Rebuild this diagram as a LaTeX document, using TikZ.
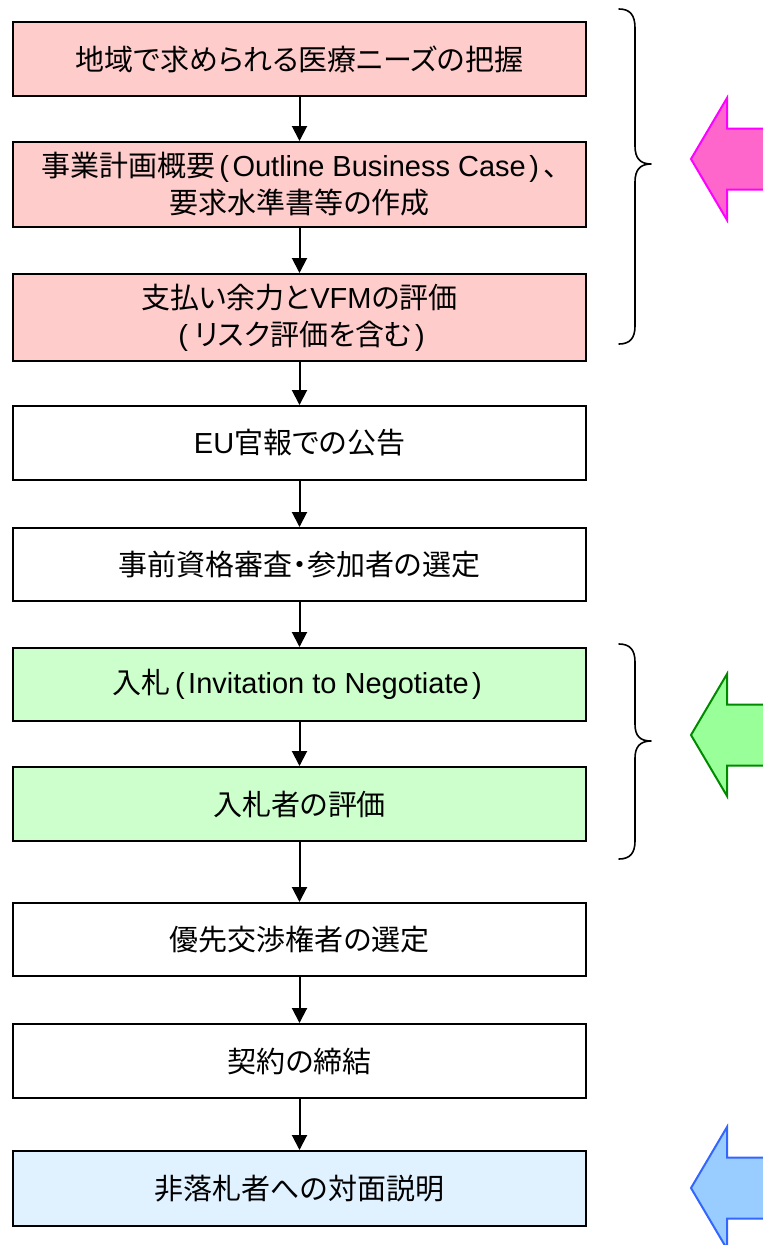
\documentclass[tikz,border=0pt]{standalone}
\usepackage{fontspec}
\setmainfont{Liberation Sans}
\newfontfamily\jpfont[RawFeature=+palt]{Noto Sans CJK JP}
\usetikzlibrary{arrows.meta}
\newcommand\latn[1]{{\normalfont #1}}
\newcommand\lpar{\hspace{0.15em}\latn{(}\hspace{0.12em}}
\newcommand\rpar{\hspace{0.12em}\latn{)}\hspace{0.15em}}
\definecolor{pinkbox}{HTML}{FFCCCC}
\definecolor{greenbox}{HTML}{CCFFCC}
\definecolor{bluebox}{HTML}{E0F2FF}
\definecolor{pinkfill}{HTML}{FF66CC}
\definecolor{pinkline}{HTML}{FF00FF}
\definecolor{greenfill}{HTML}{99FF99}
\definecolor{greenline}{HTML}{008A00}
\definecolor{bluefill}{HTML}{99CCFF}
\definecolor{blueline}{HTML}{3366FF}
\begin{document}
\begin{tikzpicture}[x=1pt,y=-1pt,
  stepbox/.style={draw=black, line width=2pt, minimum width=573pt, align=center,
    inner sep=0pt, font=\jpfont\fontsize{29}{37}\selectfont},
  conn/.style={line width=2pt, -{Triangle[width=15pt,length=15pt]}},
  bracepath/.style={line width=1.6pt, line cap=round, line join=round},
  blockarrow/.style={line width=2pt, line join=miter}]
\useasboundingbox (0,0) rectangle (763,1245);
\clip (0,0) rectangle (763,1245);

\node[stepbox, fill=pinkbox, minimum height=74pt] (b1) at (299.5,59) {地域で求められる医療ニーズの把握};
\node[stepbox, fill=pinkbox, minimum height=85pt] (b2) at (299.5,184.5) {事業計画概要\lpar\latn{Outline Business Case}\rpar 、\\要求水準書等の作成};
\node[stepbox, fill=pinkbox, minimum height=87pt] (b3) at (299.5,317.5) {支払い余力と\latn{VFM}の評価\\\lpar\hspace{0.1em}リスク評価を含む\rpar};
\node[stepbox, fill=white, minimum height=74pt] (b4) at (299.5,443) {\latn{EU}官報での公告};
\node[stepbox, fill=white, minimum height=73pt] (b5) at (299.5,564.5) {事前資格審査・参加者の選定};
\node[stepbox, fill=greenbox, minimum height=73pt] (b6) at (299.5,684.5) {入札\lpar\latn{Invitation to Negotiate}\rpar};
\node[stepbox, fill=greenbox, minimum height=74pt] (b7) at (299.5,804) {入札者の評価};
\node[stepbox, fill=white, minimum height=73pt] (b8) at (299.5,939.5) {優先交渉権者の選定};
\node[stepbox, fill=white, minimum height=74pt] (b9) at (299.5,1061) {契約の締結};
\node[stepbox, fill=bluebox, minimum height=75pt] (b10) at (299.5,1188.5) {非落札者への対面説明};

\draw[conn] (b1) -- (b2);
\draw[conn] (b2) -- (b3);
\draw[conn] (b3) -- (b4);
\draw[conn] (b4) -- (b5);
\draw[conn] (b5) -- (b6);
\draw[conn] (b6) -- (b7);
\draw[conn] (b7) -- (b8);
\draw[conn] (b8) -- (b9);
\draw[conn] (b9) -- (b10);

% braces
\draw[bracepath] (619,9) .. controls (630,9) and (635,15) .. (635,28) -- (635,146)
  .. controls (635,158) and (640,164) .. (651,164)
  .. controls (640,164) and (635,170) .. (635,182) -- (635,326)
  .. controls (635,338) and (630,344) .. (619,344);
\draw[bracepath] (619,644) .. controls (630,644) and (635,650) .. (635,662) -- (635,724)
  .. controls (635,736) and (640,741) .. (651,741)
  .. controls (640,741) and (635,747) .. (635,758) -- (635,841)
  .. controls (635,853) and (630,859) .. (619,859);

% block arrows
\draw[blockarrow, draw=pinkline, fill=pinkfill] (691,159) -- (727,98) -- (727,128.5) -- (775,128.5)
  -- (775,189.5) -- (727,189.5) -- (727,220) -- cycle;
\draw[blockarrow, draw=greenline, fill=greenfill] (691,735) -- (727,674) -- (727,704.5) -- (775,704.5)
  -- (775,765.5) -- (727,765.5) -- (727,796) -- cycle;
\draw[blockarrow, draw=blueline, fill=bluefill] (691,1188) -- (727,1127) -- (727,1157.5) -- (775,1157.5)
  -- (775,1218.5) -- (727,1218.5) -- (727,1249) -- cycle;
\end{tikzpicture}
\end{document}
